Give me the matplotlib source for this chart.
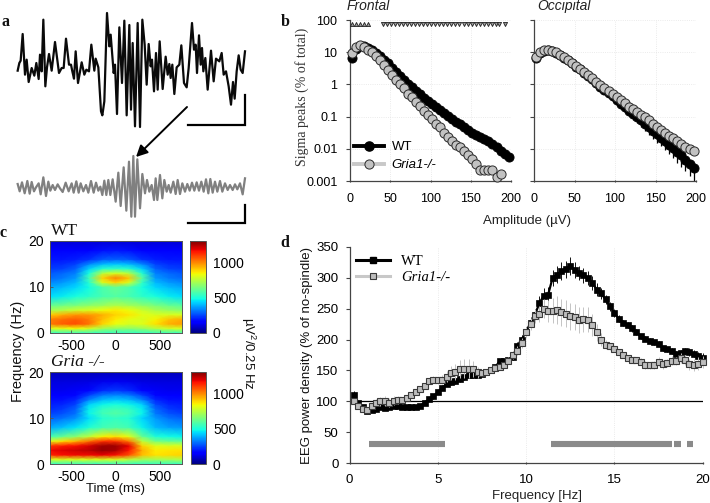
import numpy as np
import matplotlib
matplotlib.use('Agg')
import matplotlib.pyplot as plt
from matplotlib.lines import Line2D

plt.rcParams['font.family'] = ['Liberation Sans', 'DejaVu Sans']
plt.rcParams['mathtext.default'] = 'regular'
plt.rcParams['axes.unicode_minus'] = False
SERIF = ['Liberation Serif', 'DejaVu Serif']

W, H = 710, 503

# a: raw and filtered traces
raw_t = [8,13,17,23,30,35,41,50,58,64,71,75,80,85,91,96,102,110,120,132,140,146,153,162,168,172,177,182,189,200,208,214,222,229,238,242,250,258,262,268,276,283,287,296,300,306,313,321,328,335,343,
         348,353,360,368,375,382,389,395,401,407,411,417,423,428,434,443,452,458,463,467,472,478,485,493,499,507,515,521,531,537,542,546,552,557,561,565,571,578,588,596,603,613,620,626,633,641,648,654,659,665,671,677,683,690]
raw_v = [-8,15,22,102,-20,25,-42,0,-23,15,-33,40,-10,145,-55,2,42,-8,78,-15,0,0,88,10,10,-10,-32,50,-45,17,-20,-5,-10,70,-8,28,2,-130,-142,-100,165,65,100,-15,10,-138,122,-45,142,-142,129,
         -125,75,-175,135,-177,145,70,-50,72,5,25,-70,45,-65,80,-63,34,-20,12,-30,10,-78,2,10,68,-45,-58,0,135,55,70,-15,98,10,60,-10,30,-65,52,-40,28,20,45,-20,-10,-55,-110,-42,-92,-10,38,-5,-15,50]
filt_t = [8,14,21,29,37,44,50,57,63,71,77,85,93,100,106,113,120,128,135,143,152,161,170,176,184,191,197,205,213,220,228,236,243,250,256,262,268,274,280,286,293,302,310,317,326,334,342,349,355,
          360,367,375,382,390,396,403,410,417,422,427,435,442,448,455,461,467,475,482,488,495,502,510,517,524,531,538,545,552,559,566,573,580,586,593,600,607,615,622,630,638,645,653,660,667,675,683,690]
filt_v = [10,-12,15,-18,19,-19,16,-12,0,12,-21,30,-26,17,-10,7,-8,9,-3,-14,14,-12,12,-16,18,-16,12,-12,7,-16,19,-16,14,-10,2,-23,20,-23,22,-23,24,-43,44,-56,60,-70,77,-88,94,
          -88,84,-63,40,-18,22,-13,7,-38,27,-38,37,-33,22,-13,7,-16,17,-20,22,-20,12,-13,10,-10,14,-10,15,-10,17,-13,24,-18,25,-16,17,-13,19,-13,12,-8,7,-8,9,-6,12,-21,27]

# b: sigma peak amplitude distributions
amp = [2,7,12,17,22,27,32,37,42,47,52,57,62,67,72,77,82,87,92,97,102,107,112,117,122,127,132,137,142,147,152,157,162,167,172,177,182,187,192,197]
wt_front = [6.84,12.4,15.7,15.3,13.6,11.5,9.5,7.5,5.9,4.46,3.27,2.40,1.81,1.36,1.02,.81,.64,.50,.39,.31,.24,.195,.157,.127,.102,.083,.068,.057,.048,.039,.031,.027,.0235,.0204,.0169,.0139,.011,.0087,.0068,.0054]
gria_front = [9.5,14.6,16.4,14.6,12,10.2,7.7,5.7,4.0,2.8,1.95,1.36,1.02,.75,.50,.40,.29,.214,.153,.113,.083,.059,.047,.032,.024,.018,.0133,.011,.0083,.0065,.0048,.0034,.0022,.0022,.0022,.0022,.0013,.0017]
wt_occ = [6.6,9.4,11.1,11.6,10.8,9.6,8.2,6.8,5.6,4.5,3.56,2.95,2.33,1.84,1.49,1.12,.86,.68,.54,.425,.33,.25,.20,.154,.121,.096,.076,.06,.046,.0355,.028,.022,.0175,.0135,.0104,.008,.0062,.0046,.0034,.0025]
wt_occ_low = [6.2,8.9,10.6,11.1,10.3,9.1,7.7,6.4,5.2,4.2,3.3,2.7,2.1,1.65,1.3,.96,.72,.56,.43,.33,.24,.18,.14,.105,.08,.062,.047,.036,.027,.02,.0155,.0118,.0092,.0068,.005,.0037,.0028,.002,.0014,.001]
gria_occ = [7.1,9.9,11.3,11.9,11.1,9.9,8.4,6.9,5.7,4.6,3.65,3.0,2.44,1.93,1.6,1.2,.95,.77,.62,.50,.405,.32,.26,.204,.177,.14,.116,.094,.077,.058,.046,.038,.030,.0255,.0216,.0175,.0141,.0111,.0099,.0084]
sig_up = [2,7,12,17,22]
sig_down = [41,46,51,56,61,66,71,76,81,86,91,96,101,106,111,116,121,126,131,136,141,146,151,156,161,166,171,176,181,185,192]
sig_level = 75
log_ticks = [0.001, 0.01, 0.1, 1, 10, 100]
log_labels = ['0.001', '0.01', '0.1', '1', '10', '100']

# c: time-frequency maps
tf_time = [-750,-600,-450,-300,-150,0,150,300,450,600,750]
tf_freq = [0,1,2,3,4,5,6,8,10,11,12,13,14,15,16,18,20]
tf_wt = [
    [540,540,540,540,540,540,540,540,540,540,540],
    [800,820,840,800,720,690,680,700,750,790,800],
    [1020,1060,1080,1030,900,830,800,810,880,950,970],
    [1010,1040,1060,1020,930,860,820,800,850,920,950],
    [900,950,980,980,950,900,870,820,800,800,800],
    [720,740,780,800,830,860,830,780,730,700,680],
    [620,640,660,690,710,740,720,690,650,620,600],
    [450,470,500,530,570,590,570,530,500,470,450],
    [380,400,440,490,580,620,580,500,440,400,380],
    [340,360,400,520,800,900,800,540,400,360,340],
    [300,320,360,560,900,1010,920,600,360,320,300],
    [280,300,330,500,750,800,750,520,330,300,280],
    [240,250,290,430,520,540,520,430,290,250,240],
    [220,225,250,340,400,420,400,340,250,225,220],
    [190,190,200,230,280,290,280,230,200,190,190],
    [150,150,150,160,180,190,180,160,150,150,150],
    [100,100,100,100,100,100,100,100,100,100,100]]
tf_gria = [
    [540,540,540,540,540,540,540,540,540,540,540],
    [800,800,800,800,800,800,760,720,720,730,740],
    [1140,1170,1180,1180,1190,1170,1080,930,880,890,900],
    [1180,1200,1220,1240,1280,1260,1160,950,860,870,880],
    [1110,1150,1170,1210,1270,1270,1190,900,810,800,800],
    [800,880,940,1030,1120,1120,1020,760,640,620,610],
    [560,620,680,760,850,880,820,620,510,490,480],
    [380,410,460,510,560,580,560,480,400,370,360],
    [290,310,350,450,520,540,520,440,360,310,290],
    [250,270,310,480,560,590,560,480,320,270,250],
    [220,240,290,470,540,560,540,470,300,240,220],
    [200,210,250,430,480,500,480,430,260,210,200],
    [180,180,210,330,400,420,400,330,210,180,180],
    [150,150,170,250,320,340,320,250,170,150,150],
    [130,130,140,170,220,240,220,170,140,130,130],
    [110,110,110,115,125,130,125,115,110,110,110],
    [70,70,70,70,70,70,70,70,70,70,70]]

# d: EEG power density
freq = [.25,.5,.75,1,1.25,1.5,1.75,2,2.25,2.5,2.75,3,3.25,3.5,3.75,4,4.25,4.5,4.75,5,5.25,5.5,5.75,6,6.25,6.5,6.75,7,7.25,7.5,7.75,8,8.25,8.5,8.75,9,9.25,9.5,9.75,10,
        10.25,10.5,10.75,11,11.25,11.5,11.75,12,12.25,12.5,12.75,13,13.25,13.5,13.75,14,14.25,14.5,14.75,15,15.25,15.5,15.75,16,16.25,16.5,16.75,17,17.25,17.5,17.75,18,18.25,18.5,18.75,19,19.25,19.5,19.75,20]
wt_power = [110,97,90,85,86,88,90,89,90,92,93,91,91,90,90,92,98,103,108,115,122,128,131,133,136,140,142,143,142,145,147,150,155,165,165,167,172,190,200,213,
            227,240,259,271,273,300,305,311,314,319,313,308,304,300,292,281,275,265,254,243,234,227,223,218,212,205,201,198,196,193,186,184,181,177,178,181,180,177,173,170]
gria_power = [100,92,87,86,92,98,100,100,98,101,102,102,106,110,115,120,125,133,135,134,135,140,146,148,152,153,153,152,147,146,147,150,154,155.5,159,166,175,182,194,212,
              225,238,241,250,246,247,248,244,242,238,236,231,233,232,223,212,200,192,189,185,180,175,170,167,167,164,159,158,159,164,160,162,166,165,170,167,160,159,161,164]
wt_err = [6,4,3,3,3,3,3,3,3,3,3,3,3,3,3,3,3,3,4,4,4,4,4,5,5,5,5,5,5,4,4,4,4,4,4,4,5,6,7,8,
          9,10,11,12,12,13,14,14,14,14,13,12,12,11,11,10,9,8,7,6,6,5,5,5,5,4,4,4,4,4,4,4,5,5,5,6,6,6,7,8]
gria_err = [5,4,4,4,5,6,7,8,8,7,6,5,4,4,4,4,5,5,6,6,7,9,11,13,15,16,15,13,9,5,4,4,4,4,5,5,6,7,8,9,
            10,11,13,15,18,20,22,22,22,22,21,21,20,20,18,14,10,8,6,5,5,5,5,5,5,6,6,6,7,7,7,7,7,7,8,8,9,10,10,10]
sig_bars = [(1.1, 5.4), (11.4, 18.25), (18.4, 18.75), (19.1, 19.45)]
baseline = 100


def box(l, t, r, b):
    return [l / W, 1 - b / H, (r - l) / W, (b - t) / H]


def clean(ax):
    ax.spines['top'].set_visible(False)
    ax.spines['right'].set_visible(False)
    for s in ['left', 'bottom']:
        ax.spines[s].set_color('#444444')
        ax.spines[s].set_linewidth(0.9)


fig = plt.figure(figsize=(7.1, 5.03), dpi=100)

# overlay in pixel units for labels, arrow and scale bars
ov = fig.add_axes([0, 0, 1, 1], zorder=10)
ov.set_xlim(0, W)
ov.set_ylim(H, 0)
ov.axis('off')

# panel a
ax = fig.add_axes(box(15, 8, 250, 133))
ax.plot(raw_t, raw_v, color='#0a0a0a', lw=1.6, solid_joinstyle='round')
ax.set_xlim(0, 705)
ax.set_ylim(-195, 180)
ax.axis('off')

ax = fig.add_axes(box(15, 150, 250, 225))
ax.plot(filt_t, filt_v, color='#808080', lw=1.6, solid_joinstyle='round')
ax.set_xlim(0, 705)
ax.set_ylim(-113, 112)
ax.axis('off')

ov.plot([188, 245, 245], [124.5, 124.5, 95], color='black', lw=1.6, solid_joinstyle='miter')
ov.plot([188, 245, 245], [223, 223, 205], color='black', lw=1.6, solid_joinstyle='miter')
ov.annotate('', xy=(136, 157), xytext=(187, 107),
            arrowprops=dict(arrowstyle='-|>', color='black', lw=1.4, mutation_scale=17, shrinkA=0, shrinkB=0))

# panel b
boxes = [box(350, 20, 511, 181), box(534, 20, 696, 181)]
for i, pos in enumerate(boxes):
    ax = fig.add_axes(pos)
    clean(ax)
    ax.set_yscale('log')
    ax.set_xlim(0, 200)
    ax.set_ylim(0.001, 100)
    ax.set_xticks([0, 50, 100, 150, 200])
    ax.set_yticks(log_ticks)
    ax.minorticks_off()
    ax.grid(True, ls=':', lw=0.6, color='#e4e4e4')
    ax.set_axisbelow(True)
    ax.tick_params(axis='x', labelsize=9, length=2, width=0.8, direction='inout', pad=8, color='#444444')
    ax.tick_params(axis='y', labelsize=9, length=3, width=0.8, direction='out', pad=6, color='#444444')
    if i == 0:
        ax.set_yticklabels(log_labels)
        ax.plot(amp, wt_front, 'o-', lw=3, ms=6.6, mfc='black', mec='black', mew=0.6, color='black', clip_on=False, zorder=3)
        ax.plot(amp[:len(gria_front)], gria_front, 'o', ms=6.6, mfc='#c2c2c2', mec='#2b2b2b', mew=0.7, clip_on=False, zorder=4)
        ax.plot(sig_up, [sig_level] * len(sig_up), '^', ms=3, mfc='#999999', mec='#222222', mew=0.6, zorder=5)
        ax.plot(sig_down, [sig_level] * len(sig_down), 'v', ms=3, mfc='#999999', mec='#222222', mew=0.6, zorder=5)
        h1 = Line2D([], [], color='black', lw=2.8, marker='o', ms=6.6, mfc='black', mec='black')
        h2 = Line2D([], [], color='#c8c8c8', lw=2.8, marker='o', ms=6.6, mfc='#c2c2c2', mec='#2b2b2b', mew=0.7)
        leg = ax.legend([h1, h2], ['WT', 'Gria1-/-'], loc='lower left', bbox_to_anchor=(0.0, 0.035),
                        frameon=False, fontsize=9.5, handlelength=2.3, handletextpad=0.55, labelspacing=0.45,
                        borderaxespad=0.3, borderpad=0)
        leg.get_texts()[1].set_style('italic')
    else:
        ax.set_yticklabels([])
        ax.vlines(amp, wt_occ_low, wt_occ, color='black', lw=0.9, zorder=2, clip_on=True)
        ax.plot(amp, wt_occ, 'o-', lw=3, ms=6.6, mfc='black', mec='black', mew=0.6, color='black', clip_on=False, zorder=3)
        ax.plot(amp, gria_occ, 'o', ms=6.6, mfc='#c2c2c2', mec='#2b2b2b', mew=0.7, clip_on=False, zorder=4)

ov.text(347, 6, 'Frontal', style='italic', fontsize=10, ha='left', va='center', color='#222222')
ov.text(537, 6, 'Occipital', style='italic', fontsize=10, ha='left', va='center', color='#222222')
ov.text(302, 97, 'Sigma peaks (% of total)', family=SERIF, fontsize=10, rotation=90, ha='center', va='center', color='#333333')
ov.text(527, 221, 'Amplitude (µV)', fontsize=9.5, ha='center', va='center', color='#222222')

# panel c
for tf, top, bot, cb_l, cb_r, title, tstyle in [(tf_wt, 241, 333, 190, 206, 'WT', 'normal'),
                                                 (tf_gria, 372, 464, 191, 206, 'Gria -/-', 'italic')]:
    ax = fig.add_axes(box(49.5, top, 182, bot))
    im = ax.pcolormesh(tf_time, tf_freq, np.array(tf), shading='gouraud', cmap='jet', vmin=0, vmax=1310)
    ax.set_xlim(-745, 750)
    ax.set_ylim(0, 20)
    ax.set_xticks([-500, 0, 500])
    ax.set_yticks([0, 10, 20])
    ax.tick_params(labelsize=10, length=2, width=0.6, direction='in', pad=4, color='#555555')
    for s in ax.spines.values():
        s.set_color('#555555')
        s.set_linewidth(0.7)
    cax = fig.add_axes(box(cb_l, top, cb_r, bot))
    cb = fig.colorbar(im, cax=cax, ticks=[0, 500, 1000])
    cb.ax.tick_params(labelsize=10, length=0, pad=5)
    cb.outline.set_edgecolor('#555555')
    cb.outline.set_linewidth(0.7)
    ov.text(51, top - 10, title, family=SERIF, style=tstyle, fontsize=12.5, ha='left', va='center', color='#111111')

ov.text(18, 351, 'Frequency (Hz)', fontsize=10.5, rotation=90, ha='center', va='center', color='#111111')
ov.text(115, 489, 'Time (ms)', fontsize=9.5, ha='center', va='center', color='#111111')
ov.text(248, 353, 'µV$^2$/0.25 Hz', fontsize=9.5, rotation=270, ha='center', va='center', color='#111111')

# panel d
ax = fig.add_axes(box(349.5, 247, 702.7, 463))
clean(ax)
ax.set_xlim(0, 20)
ax.set_ylim(0, 350)
ax.set_xticks([0, 5, 10, 15, 20])
ax.set_yticks(range(0, 351, 50))
ax.grid(True, axis='x', ls=':', lw=0.6, color='#e4e4e4')
ax.set_axisbelow(True)
ax.tick_params(axis='x', labelsize=9.5, length=2, width=0.8, direction='inout', pad=7, color='#444444')
ax.tick_params(axis='y', labelsize=9.5, length=3, width=0.8, direction='out', pad=5, color='#444444')
ax.axhline(baseline, color='black', lw=0.9, zorder=2)
ax.errorbar(freq, wt_power, yerr=wt_err, fmt='s-', lw=1.6, color='black', ms=3.8, mfc='black', mec='black', mew=0.5, ecolor='#111111', elinewidth=0.7, zorder=3, clip_on=False)
ax.errorbar(freq, gria_power, yerr=gria_err, fmt='s', ms=3.7, mfc='#bdbdbd', mec='#3a3a3a', mew=0.8, ecolor='#c4c4c4', elinewidth=0.7, zorder=4, clip_on=False)
for x0, x1 in sig_bars:
    ax.plot([x0, x1], [30, 30], color='#8a8a8a', lw=4.4, solid_capstyle='butt', zorder=2)
h1 = Line2D([], [], color='black', lw=2.2, marker='s', ms=4, mfc='black', mec='black')
h2 = Line2D([], [], color='#c8c8c8', lw=2.2, marker='s', ms=4, mfc='#bdbdbd', mec='#3a3a3a', mew=0.8)
leg = ax.legend([h1, h2], ['WT', 'Gria1-/-'], loc='upper left', bbox_to_anchor=(0.0, 0.996), frameon=False,
                prop={'family': SERIF, 'size': 10.5}, handlelength=2.3, handletextpad=0.8, labelspacing=0.25,
                borderaxespad=0.45, borderpad=0)
leg.get_texts()[1].set_style('italic')

ov.text(307, 356, 'EEG power density (% of no-spindle)', fontsize=9.5, rotation=90, ha='center', va='center', color='#111111')
ov.text(537, 496, 'Frequency [Hz]', fontsize=9.5, ha='center', va='center', color='#222222')

# panel letters
for letter, x, y in [('a', 6, 22), ('b', 285, 22), ('c', 3, 233), ('d', 285, 243)]:
    ov.text(x, y, letter, family=SERIF, weight='bold', fontsize=11.5, ha='center', va='center', color='#111111')

fig.savefig('out.png', dpi=100)
